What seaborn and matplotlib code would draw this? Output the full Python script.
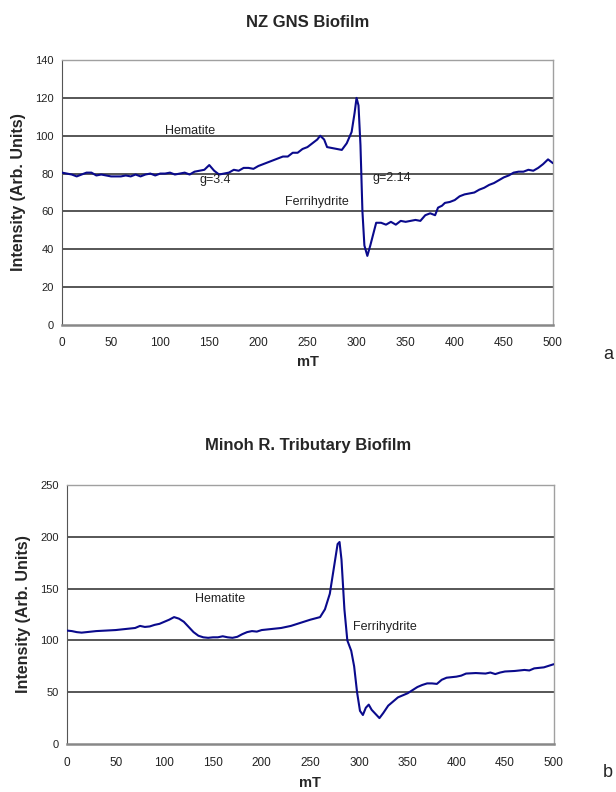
import numpy as np
import pandas as pd
import matplotlib
matplotlib.use("Agg")
import matplotlib.pyplot as plt
import seaborn as sns

# EPR spectra (field in mT, intensity in arb. units)
nz_field = [0, 5, 10, 15, 20, 25, 30, 35, 40, 45, 50, 60, 65, 70, 75, 80, 85, 90, 95,
            100, 105, 110, 115, 120, 125, 130, 135, 140, 145, 150, 155, 160, 165, 170,
            175, 180, 185, 190, 195, 200, 205, 210, 215, 220, 225, 230, 235, 240, 245,
            250, 255, 260, 263, 267, 270, 275, 280, 285, 290, 295, 298, 300, 302, 304,
            306, 308, 311, 314, 317, 320, 325, 330, 335, 340, 345, 350, 355, 360, 365,
            370, 375, 380, 383, 387, 390, 395, 400, 405, 410, 415, 420, 425, 430, 435,
            440, 445, 450, 455, 460, 465, 470, 475, 480, 485, 490, 495, 500]
nz_intensity = [80.5, 80, 79.5, 78.5, 79.5, 80.5, 80.5, 79, 79.5, 79, 78.5, 78.5, 79,
                78.5, 79.5, 78.5, 79.5, 80, 79, 80, 80, 80.5, 79.5, 80, 80.5, 79.5, 81,
                81.5, 82, 84.5, 81.5, 79.5, 80, 80.5, 82, 81.5, 83, 83, 82.5, 84, 85, 86,
                87, 88, 89, 89, 91, 91, 93, 94, 96, 98, 100, 98, 94, 93.5, 93, 92.5, 96,
                102, 112, 120, 116, 95, 60, 42, 36.5, 42, 48, 54, 54, 53, 54.5, 53, 55,
                54.5, 55, 55.5, 55, 58, 59, 58, 62, 63, 64.5, 65, 66, 68, 69, 69.5, 70,
                71.5, 72.5, 74, 75, 76.5, 78, 79, 80.5, 81, 81, 82, 81.5, 83, 85, 87.5,
                85.5]

minoh_field = [0, 5, 10, 15, 20, 25, 30, 40, 50, 60, 70, 75, 80, 85, 90, 95, 100, 105,
               110, 115, 120, 125, 130, 135, 140, 145, 150, 155, 160, 165, 170, 175, 180,
               185, 190, 195, 200, 210, 220, 230, 240, 250, 260, 265, 270, 275, 278, 280,
               282, 285, 288, 292, 295, 298, 301, 304, 307, 310, 313, 318, 321, 325, 330,
               335, 340, 345, 350, 355, 360, 365, 370, 375, 380, 385, 390, 395, 400, 405,
               410, 420, 430, 435, 440, 445, 450, 460, 470, 475, 480, 490, 500]
minoh_intensity = [109.5, 109, 108, 107.5, 108, 108.5, 109, 109.5, 110, 111, 112, 114,
                   113, 113.5, 115, 116, 118, 120, 122.5, 121, 118, 113, 108, 104.5, 103,
                   102.5, 103, 103, 104, 103, 102.5, 103.5, 106, 108, 109, 108.5, 110, 111,
                   112, 114, 117, 120, 122.5, 130, 145, 175, 193, 195, 178, 130, 100, 90,
                   75, 50, 32, 28, 35, 38, 33, 28, 25, 30, 37, 41, 45, 47, 49, 52, 55, 57,
                   58.5, 58.5, 58, 62, 64, 64.5, 65, 66, 68, 68.5, 68, 69, 67.5, 69, 70,
                   70.5, 71.5, 71, 73, 74, 77]

nz_yticks = [0, 20, 40, 60, 80, 100, 120, 140]
minoh_yticks = [0, 50, 100, 150, 200, 250]
x_ticks = [0, 50, 100, 150, 200, 250, 300, 350, 400, 450, 500]

sns.set_style("white")
plt.rcParams['font.family'] = ['Liberation Sans', 'DejaVu Sans']

fig = plt.figure(figsize=(6.16, 7.92), dpi=100)
ax1 = fig.add_axes([0.1006, 0.5897, 0.797, 0.3345])
ax2 = fig.add_axes([0.1088, 0.0606, 0.790, 0.327])

line_color = "#0a0a8c"
note_kw = dict(fontsize=9, va="center", color="#222222")


def style_axis(ax, yticks, xlabel_y):
    ax.set_xlim(0, 500)
    ax.set_ylim(yticks[0], yticks[-1])
    ax.set_xticks(x_ticks)
    ax.set_yticks(yticks)
    for y in yticks[1:-1]:
        ax.axhline(y, color="#3a3a3a", lw=1.2, zorder=1)
    for side in ["top", "right"]:
        ax.spines[side].set_color("#a0a0a0")
        ax.spines[side].set_linewidth(1.0)
    ax.spines["left"].set_color("#555555")
    ax.spines["bottom"].set_color("#888888")
    ax.spines["bottom"].set_linewidth(1.8)
    ax.tick_params(axis="y", labelsize=8, length=3, width=0.8,
                   direction="out", colors="#222222", pad=3)
    ax.tick_params(axis="x", labelsize=8.5, length=3, width=0.8,
                   direction="out", colors="#222222", pad=6)
    ax.set_xlabel("mT", fontsize=10.5, fontweight="bold", va="center")
    ax.set_ylabel("Intensity (Arb. Units)", fontsize=11.5, fontweight="bold", va="center")
    ax.xaxis.set_label_coords(0.5, xlabel_y)
    ax.yaxis.set_label_coords(-0.089, 0.5)


nz = pd.DataFrame({"field": nz_field, "intensity": nz_intensity})
sns.lineplot(data=nz, x="field", y="intensity", ax=ax1, color=line_color, lw=1.5, zorder=3)
style_axis(ax1, nz_yticks, -0.14)
ax1.text(130, 102.5, "Hematite", ha="center", **note_kw)
ax1.text(156, 76.5, "g=3.4", ha="center", **note_kw)
ax1.text(336, 77.5, "g=2.14", ha="center", **note_kw)
ax1.text(260, 65, "Ferrihydrite", ha="center", **note_kw)

mi = pd.DataFrame({"field": minoh_field, "intensity": minoh_intensity})
sns.lineplot(data=mi, x="field", y="intensity", ax=ax2, color=line_color, lw=1.5, zorder=3)
style_axis(ax2, minoh_yticks, -0.15)
ax2.text(157, 140, "Hematite", ha="center", **note_kw)
ax2.text(294, 113, "Ferrihydrite", ha="left", **note_kw)

fig.text(0.50, 0.972, "NZ GNS Biofilm", fontsize=12, fontweight="bold", ha="center", va="center")
fig.text(0.50, 0.438, "Minoh R. Tributary Biofilm", fontsize=12, fontweight="bold",
         ha="center", va="center")
fig.text(0.987, 0.553, "a", fontsize=13, ha="center", va="center")
fig.text(0.987, 0.024, "b", fontsize=13, ha="center", va="center")

fig.savefig("out.png", dpi=100)
